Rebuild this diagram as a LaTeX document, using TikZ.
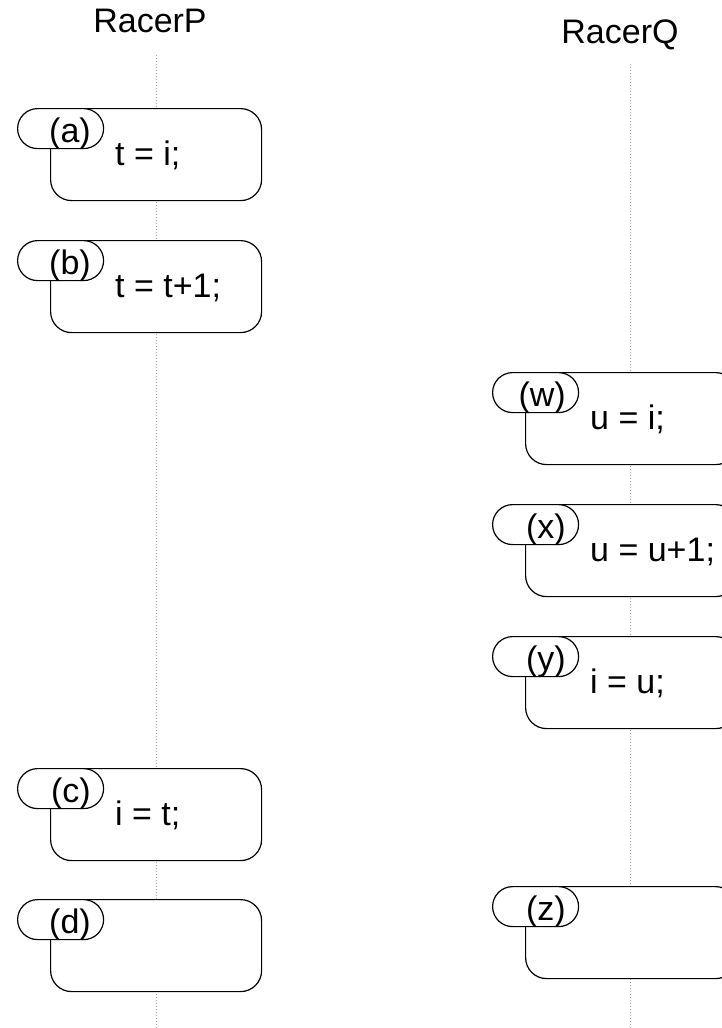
\documentclass[tikz,border=0pt]{standalone}
\usepackage{fontspec}
\setmainfont{Liberation Sans}
\usetikzlibrary{calc}
\tikzset{
  lifeline/.style={draw=gray!70, line width=0.9pt, dash pattern=on 0.9pt off 2.1pt},
  stepbox/.style={draw=black, fill=white, line width=1.2pt, rounded corners=21pt,
    minimum width=211pt, minimum height=92pt, inner sep=0pt, anchor=north west},
  pill/.style={draw=black, fill=white, line width=1.2pt, rounded corners=20pt,
    minimum width=86pt, minimum height=40pt, inner sep=0pt, anchor=north west},
  lbl/.style={inner sep=0pt, anchor=base east, font=\fontsize{34}{40}\selectfont},
  code/.style={inner sep=0pt, anchor=base west, font=\fontsize{34}{40}\selectfont},
  title/.style={inner sep=0pt, anchor=base, font=\fontsize{34}{40}\selectfont}
}
\newcommand{\stepat}[5]{% name, x, y, label, code
  \node[stepbox] (#1) at (#2,#3) {};
  \node[pill] (#1p) at ($(#1.north west)+(-33,0)$) {};
  \node[lbl] (#1l) at ($(#1.north west)+(41,34)$) {#4};
  \node[code] (#1c) at ($(#1.north west)+(65,57)$) {#5};
}
\begin{document}
\begin{tikzpicture}[x=1pt,y=-1pt]
\useasboundingbox (0,0) rectangle (722,1028);
\node[title] (P) at (150,32) {RacerP};
\node[title] (Q) at (620,43) {RacerQ};
\coordinate (Ptop) at (156,55);
\coordinate (Pbot) at (156,1028);
\coordinate (Qtop) at (630,64);
\coordinate (Qbot) at (630,1028);
\draw[lifeline] (Ptop) -- (Pbot);
\draw[lifeline] (Qtop) -- (Qbot);
\stepat{a}{50}{108}{(a)}{t = i;}
\stepat{b}{50}{240}{(b)}{t = t+1;}
\stepat{c}{50}{768}{(c)}{i = t;}
\stepat{d}{50}{899}{(d)}{}
\stepat{w}{525}{372}{(w)}{u = i;}
\stepat{x}{525}{504}{(x)}{u = u+1;}
\stepat{y}{525}{636}{(y)}{i = u;}
\stepat{z}{525}{886}{(z)}{}
\end{tikzpicture}
\end{document}
